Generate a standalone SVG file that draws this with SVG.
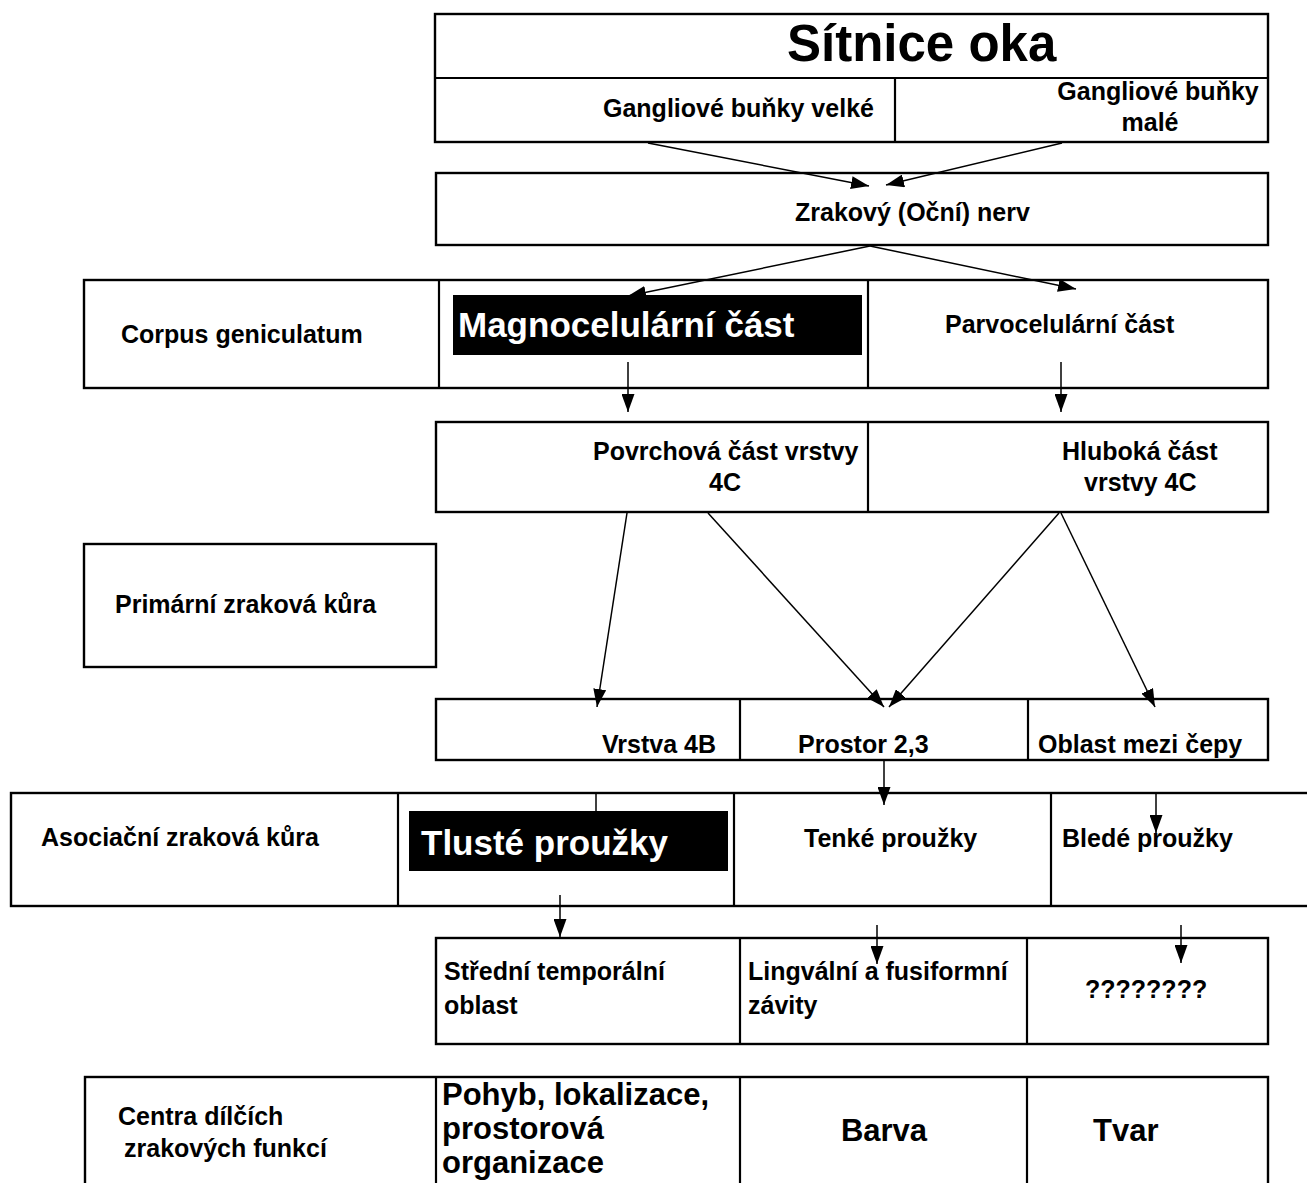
<svg xmlns="http://www.w3.org/2000/svg" width="1307" height="1183" viewBox="0 0 1307 1183">
<style>
.box{fill:#fff;stroke:#000;stroke-width:2.4}
.div{stroke:#000;stroke-width:2.2;fill:none}
.blk{fill:#000;stroke:none}
.t{font-family:"Liberation Sans",Arial,sans-serif;font-weight:bold;font-size:25px;fill:#000}
.big{font-size:31px}
.w{font-family:"Liberation Sans",Arial,sans-serif;font-weight:bold;font-size:35px;fill:#fff}
.ar{stroke:#000;stroke-width:1.5;fill:none;marker-end:url(#ah)}
</style>
<defs>
<marker id="ah" markerUnits="userSpaceOnUse" markerWidth="18" markerHeight="13" refX="18" refY="6.5" orient="auto">
<path d="M0,0 L18,6.5 L0,13 Z" fill="#000"/>
</marker>
</defs>
<rect width="1307" height="1183" fill="#fff"/>

<g id="sitnice">
<rect class="box" x="435" y="14" width="833" height="128"/>
<line class="div" x1="435" y1="78" x2="1268" y2="78"/>
<line class="div" x1="895" y1="78" x2="895" y2="142"/>
<text class="t" x="787" y="61" style="font-size:51px">Sítnice oka</text>
<text class="t" x="603" y="117">Gangliové buňky velké</text>
<text class="t" x="1158" y="100" text-anchor="middle">Gangliové buňky</text>
<text class="t" x="1150" y="131" text-anchor="middle">malé</text>
</g>

<g id="nerv">
<rect class="box" x="436" y="173" width="832" height="72"/>
<text class="t" x="795" y="221">Zrakový (Oční) nerv</text>
</g>

<g id="corpus">
<rect class="box" x="84" y="280" width="1184" height="108"/>
<line class="div" x1="439" y1="280" x2="439" y2="388"/>
<line class="div" x1="868" y1="280" x2="868" y2="388"/>
<text class="t" x="121" y="343">Corpus geniculatum</text>
<rect class="blk" x="453" y="295" width="409" height="60"/>
<text class="w" x="458" y="337">Magnocelulární část</text>
<text class="t" x="945" y="333">Parvocelulární část</text>
</g>

<g id="vrstva4c">
<rect class="box" x="436" y="422" width="832" height="90"/>
<line class="div" x1="868" y1="422" x2="868" y2="512"/>
<text class="t" x="593" y="460">Povrchová část vrstvy</text>
<text class="t" x="709" y="491">4C</text>
<text class="t" x="1062" y="460">Hluboká část</text>
<text class="t" x="1084" y="491">vrstvy 4C</text>
</g>

<g id="primarni">
<rect class="box" x="84" y="544" width="352" height="123"/>
<text class="t" x="115" y="613">Primární zraková kůra</text>
</g>

<g id="vrstvy">
<rect class="box" x="436" y="699" width="832" height="61"/>
<line class="div" x1="740" y1="699" x2="740" y2="760"/>
<line class="div" x1="1028" y1="699" x2="1028" y2="760"/>
<text class="t" x="602" y="753">Vrstva 4B</text>
<text class="t" x="798" y="753">Prostor 2,3</text>
<text class="t" x="1038" y="753">Oblast mezi čepy</text>
</g>

<g id="asociacni">
<rect class="box" x="11" y="793" width="1310" height="113"/>
<line class="div" x1="398" y1="793" x2="398" y2="906"/>
<line class="div" x1="734" y1="793" x2="734" y2="906"/>
<line class="div" x1="1051" y1="793" x2="1051" y2="906"/>
<text class="t" x="41" y="846">Asociační zraková kůra</text>
<rect class="blk" x="409" y="811" width="319" height="60"/>
<text class="w" x="421" y="855">Tlusté proužky</text>
<text class="t" x="804" y="847">Tenké proužky</text>
<text class="t" x="1062" y="847">Bledé proužky</text>
</g>

<g id="oblasti">
<rect class="box" x="436" y="938" width="832" height="106"/>
<line class="div" x1="740" y1="938" x2="740" y2="1044"/>
<line class="div" x1="1027" y1="938" x2="1027" y2="1044"/>
<text class="t" x="444" y="980">Střední temporální</text>
<text class="t" x="444" y="1014">oblast</text>
<text class="t" x="748" y="980">Lingvální a fusiformní</text>
<text class="t" x="748" y="1014">závity</text>
<text class="t" x="1085" y="998">????????</text>
</g>

<g id="centra">
<rect class="box" x="85" y="1077" width="1183" height="130"/>
<line class="div" x1="436" y1="1077" x2="436" y2="1190"/>
<line class="div" x1="740" y1="1077" x2="740" y2="1190"/>
<line class="div" x1="1027" y1="1077" x2="1027" y2="1190"/>
<text class="t" x="118" y="1125">Centra dílčích</text>
<text class="t" x="124" y="1157">zrakových funkcí</text>
<text class="t big" x="442" y="1105">Pohyb, lokalizace,</text>
<text class="t big" x="442" y="1139">prostorová</text>
<text class="t big" x="442" y="1173">organizace</text>
<text class="t big" x="884" y="1141" text-anchor="middle">Barva</text>
<text class="t big" x="1093" y="1141">Tvar</text>
</g>

<g id="connectors">
<line class="ar" x1="648" y1="143" x2="869" y2="186"/>
<line class="ar" x1="1062" y1="143" x2="886" y2="185"/>
<line class="ar" x1="870" y1="246" x2="628" y2="296"/>
<line class="ar" x1="870" y1="246" x2="1076" y2="289"/>
<line class="ar" x1="628" y1="362" x2="628" y2="412"/>
<line class="ar" x1="1061" y1="362" x2="1061" y2="412"/>
<line class="ar" x1="627" y1="513" x2="597" y2="707"/>
<line class="ar" x1="708" y1="513" x2="884" y2="707"/>
<line class="ar" x1="1059" y1="513" x2="889" y2="707"/>
<line class="ar" x1="1061" y1="513" x2="1155" y2="707"/>
<line class="ar" x1="884" y1="760" x2="884" y2="805"/>
<line class="ar" x1="1156" y1="793" x2="1156" y2="833"/>
<line class="ar" x1="560" y1="895" x2="560" y2="937"/>
<line class="ar" x1="877" y1="925" x2="877" y2="964"/>
<line class="ar" x1="1181" y1="925" x2="1181" y2="963"/>
<line class="div" x1="596" y1="793" x2="596" y2="811" style="stroke-width:1.5"/>
</g>
</svg>
